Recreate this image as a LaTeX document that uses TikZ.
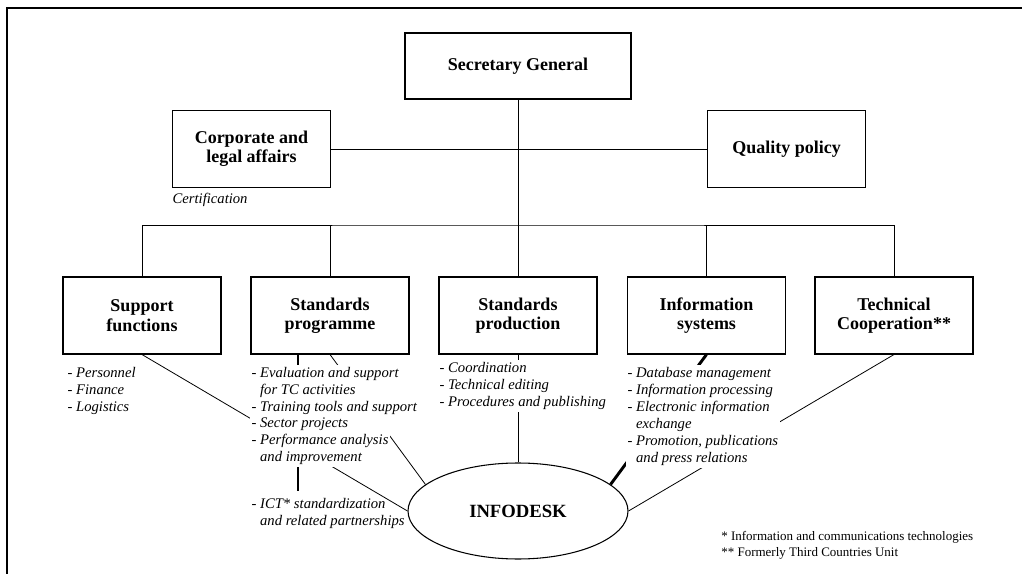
\documentclass[tikz,border=0pt]{standalone}
\usepackage{fontspec}
\setmainfont{Liberation Serif}
\usetikzlibrary{shapes.geometric}

\begin{document}
\begin{tikzpicture}[x=0.75pt, y=-0.75pt,
    unitbox/.style={draw, line width=0.8pt, minimum width=118.5pt, minimum height=57.75pt, inner sep=0pt, align=center, font=\fontsize{13.5}{14.5}\selectfont\bfseries},
    topbox/.style={unitbox, minimum width=169.5pt, minimum height=49.5pt},
    tasklist/.style={anchor=north west, align=left, inner xsep=1pt, inner ysep=1.5pt, fill=white, font=\fontsize{11}{12.75}\selectfont\itshape},
    link/.style={line width=0.6pt},
    heavylink/.style={line width=2.2pt}]
    \useasboundingbox (0,0) rectangle (1022,574);
    \draw[line width=0.8pt] (7,574) -- (7,8) -- (1022,8);

    \node[topbox] at (518, 66) (sg) {Secretary General};
    \node[unitbox] at (251.5, 149) (corp) {Corporate and\\legal affairs};
    \node[unitbox] at (786.5, 149) (qual) {Quality policy};
    \node[unitbox] at (142, 315.5) (supp) {Support\\functions};
    \node[unitbox] at (330, 315.5) (sprog) {Standards\\programme};
    \node[unitbox] at (518, 315.5) (sprod) {Standards\\production};
    \node[unitbox] at (706.5, 315.5) (infsys) {Information\\systems};
    \node[unitbox] at (894, 315.5) (tcoop) {Technical\\Cooperation**};
    \node[ellipse, draw, line width=0.8pt, minimum width=165pt, minimum height=72pt, font=\fontsize{14}{16}\selectfont\bfseries] at (518, 511) (infodesk) {INFODESK};
    \node[tasklist, fill=none] at (250, 496) (ictlist) {- ICT* standardization\\\hphantom{- }and related partnerships};
    \coordinate (bus) at (518, 225);
    \coordinate (barstart) at ([xshift=-24pt]sprog.south);

    \draw[link] (corp) -- (qual);
    \draw[link] (sg) -- (sprod);
    \draw[link] (supp.north) |- (bus) -| (tcoop.north);
    \draw[link] (sprog.north) -- (sprog.north |- bus);
    \draw[link] (infsys.north) -- (infsys.north |- bus);
    \draw[link] (supp.south) -- (infodesk.west);
    \draw[link] (sprog.south) -- (infodesk.164);
    \draw[link] (sprod) -- (infodesk);
    \draw[link] (tcoop.south) -- (infodesk.east);
    \draw[heavylink] (infsys.south) -- (infodesk.16);
    \draw[heavylink, shorten >=4pt] (barstart) -- (barstart |- ictlist.north);

    \node[tasklist] at (171, 191) (certif) {Certification};
    \node[tasklist] at (66, 365) (supplist) {- Personnel\\- Finance\\- Logistics};
    \node[tasklist] at (250, 365) (proglista) {- Evaluation and support\\\hphantom{- }for TC activities\\- Training tools and support};
    \node[tasklist] at (250, 416) (proglistb) {- Sector projects\\- Performance analysis\\\hphantom{- }and improvement};
    \node[tasklist] at (438, 360) (prodlist) {- Coordination\\- Technical editing\\- Procedures and publishing};
    \node[tasklist] at (626, 365) (infolist) {- Database management\\- Information processing\\- Electronic information\\\hphantom{- }exchange\\- Promotion, publications\\\hphantom{- }and press relations};
    \node[anchor=north west, align=left, inner sep=0pt, font=\fontsize{9.75}{12}\selectfont] at (721, 531) (notes) {* Information and communications technologies\\** Formerly Third Countries Unit};
\end{tikzpicture}
\end{document}
